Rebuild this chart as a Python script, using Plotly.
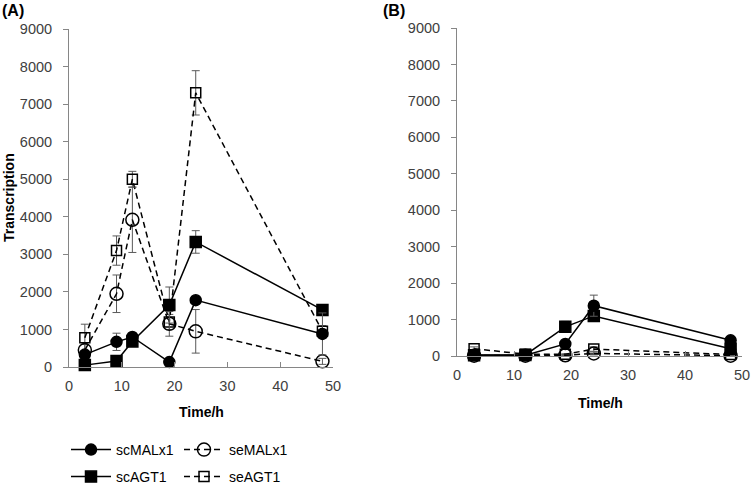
import plotly.graph_objects as go

W, H = 751, 484

# ---------------- data ----------------
# Panel A
time_a = [3, 9, 12, 19, 24, 48]
a_scMAL = [330, 670, 800, 130, 1780, 880]
a_scMAL_err = [100, 230, 100, 60, 0, 560]
a_seMAL = [450, 1950, 3920, 1150, 950, 150]
a_seMAL_err = [150, 500, 870, 330, 580, 80]
a_scAGT = [50, 160, 680, 1650, 3330, 1520]
a_scAGT_err = [30, 50, 100, 480, 300, 100]
a_seAGT = [780, 3100, 5000, 1200, 7300, 950]
a_seAGT_err = [360, 390, 210, 200, 590, 150]

# Panel B
time_b = [3, 12, 19, 24, 48]
b_scMAL = [30, 20, 330, 1380, 430]
b_scMAL_err = [30, 20, 60, 290, 80]
b_seMAL = [10, 10, 20, 70, 10]
b_seMAL_err = [5, 5, 5, 40, 5]
b_scAGT = [20, 30, 800, 1100, 200]
b_scAGT_err = [20, 20, 150, 100, 50]
b_seAGT = [200, 50, 50, 190, 40]
b_seAGT_err = [50, 10, 10, 60, 10]

series_names = ["scMALx1", "seMALx1", "scAGT1", "seAGT1"]
y_ticks = [0, 1000, 2000, 3000, 4000, 5000, 6000, 7000, 8000, 9000]
x_ticks = [0, 10, 20, 30, 40, 50]
x_title = "Time/h"
y_title = "Transcription"
panel_labels = ["(A)", "(B)"]

# ---------------- styles ----------------
FONT = "Liberation Sans, Arial, sans-serif"
ERR = dict(color="#595959", thickness=1, width=4)

styles = {
    "scMALx1": dict(symbol="circle", size=11, dash="solid", legend="legend"),
    "seMALx1": dict(symbol="circle-open", size=13, dash="6px,4px", legend="legend"),
    "scAGT1": dict(symbol="square", size=11, dash="solid", legend="legend2"),
    "seAGT1": dict(symbol="square-open", size=10, dash="6px,4px", legend="legend2"),
}


def px_x(p):
    return p / W


def px_y(p):
    return 1 - p / H


fig = go.Figure()


def add_series(name, x, y, err, xa, ya, show):
    s = styles[name]
    fig.add_trace(go.Scatter(
        x=x, y=y, name=name, mode="lines+markers",
        xaxis=xa, yaxis=ya, showlegend=show, legend=s["legend"],
        line=dict(color="black", width=1.5, dash=s["dash"]),
        marker=dict(symbol=s["symbol"], size=s["size"], color="black",
                    line=dict(color="black", width=1.5)),
        error_y=dict(type="data", array=err, visible=True, **ERR),
        cliponaxis=False,
    ))


# panel A
add_series("seAGT1", time_a, a_seAGT, a_seAGT_err, "x", "y", True)
add_series("seMALx1", time_a, a_seMAL, a_seMAL_err, "x", "y", True)
add_series("scAGT1", time_a, a_scAGT, a_scAGT_err, "x", "y", True)
add_series("scMALx1", time_a, a_scMAL, a_scMAL_err, "x", "y", True)
# panel B
add_series("seAGT1", time_b, b_seAGT, b_seAGT_err, "x2", "y2", False)
add_series("seMALx1", time_b, b_seMAL, b_seMAL_err, "x2", "y2", False)
add_series("scAGT1", time_b, b_scAGT, b_scAGT_err, "x2", "y2", False)
add_series("scMALx1", time_b, b_scMAL, b_scMAL_err, "x2", "y2", False)

tickfont = dict(family=FONT, size=14.5, color="#404040")
xaxis_common = dict(range=[0, 50], tickvals=x_ticks, showgrid=False, zeroline=False,
                    showline=True, linecolor="#868686", linewidth=1,
                    ticks="inside", ticklen=5, tickcolor="#868686", automargin=False,
                    tickfont=tickfont, ticklabelstandoff=6, fixedrange=True)
yaxis_common = dict(range=[0, 9000], tickvals=y_ticks, showgrid=False, zeroline=False,
                    showline=True, linecolor="#868686", linewidth=1,
                    ticks="outside", ticklen=5, tickcolor="#868686", automargin=False,
                    tickfont=tickfont, ticklabelstandoff=8, fixedrange=True)

legend_common = dict(orientation="h", xanchor="left", yanchor="middle",
                     itemwidth=40, entrywidth=58, entrywidthmode="pixels",
                     traceorder="reversed",
                     font=dict(family=FONT, size=14, color="black"),
                     bgcolor="rgba(0,0,0,0)")

fig.update_layout(
    width=W, height=H,
    margin=dict(l=0, r=0, t=0, b=0, autoexpand=False),
    paper_bgcolor="white", plot_bgcolor="white",
    font=dict(family=FONT, size=14, color="black"),
    xaxis=dict(domain=[px_x(69), px_x(333)], anchor="y", **xaxis_common),
    yaxis=dict(domain=[px_y(367), px_y(29)], anchor="x", **yaxis_common),
    xaxis2=dict(domain=[px_x(457), px_x(742)], anchor="y2", **xaxis_common),
    yaxis2=dict(domain=[px_y(356), px_y(28)], anchor="x2", **yaxis_common),
    legend=dict(x=px_x(66), y=px_y(450), **legend_common),
    legend2=dict(x=px_x(66), y=px_y(477), **legend_common),
)

ann_font = dict(family=FONT, size=14, color="black")
annotations = [
    dict(text="<b>" + x_title + "</b>", x=px_x(201), y=px_y(412), font=ann_font),
    dict(text="<b>" + x_title + "</b>", x=px_x(600), y=px_y(403), font=ann_font),
    dict(text="<b>" + y_title + "</b>", x=px_x(9), y=px_y(198), textangle=-90, font=ann_font),
    dict(text="<b>" + panel_labels[0] + "</b>", x=px_x(0), y=px_y(10), xanchor="left",
         font=dict(family=FONT, size=16, color="black")),
    dict(text="<b>" + panel_labels[1] + "</b>", x=px_x(381), y=px_y(10), xanchor="left",
         font=dict(family=FONT, size=16, color="black")),
]
for a in annotations:
    a.setdefault("xanchor", "center")
    fig.add_annotation(xref="paper", yref="paper", yanchor="middle", showarrow=False, **a)

fig.write_html("out.html",
               config={"displayModeBar": False},
               post_script="document.body.style.margin='0';document.body.style.overflow='hidden';")
